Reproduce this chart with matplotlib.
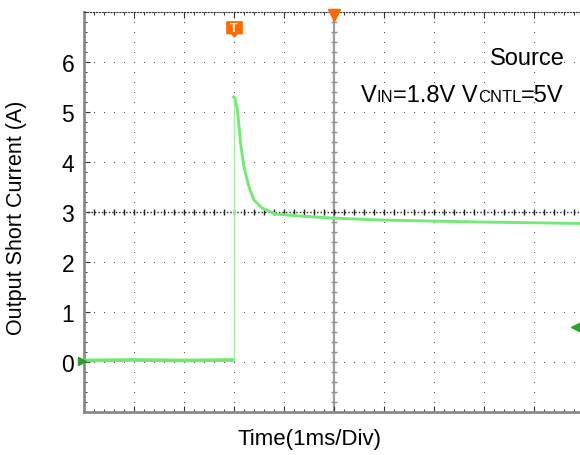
import numpy as np
import matplotlib
matplotlib.use("Agg")
import matplotlib.pyplot as plt
from matplotlib.path import Path

plt.rcParams['font.family'] = ['Liberation Sans', 'DejaVu Sans']

t_base = [0.0, 1.0, 2.0, 2.99]
i_base = [0.03, 0.04, 0.03, 0.04]

t_rise = [2.99, 2.99]
i_rise = [0.04, 5.3]

t_decay = [2.99, 3.02, 3.07, 3.13, 3.2, 3.3, 3.4, 3.56, 3.83, 4.3, 4.96, 5.9, 7.9, 10.0]
i_decay = [5.3, 5.27, 5.04, 4.38, 3.9, 3.5, 3.24, 3.08, 2.96, 2.92, 2.88, 2.84, 2.8, 2.77]

y_ticks = [0, 1, 2, 3, 4, 5, 6]

fig = plt.figure(figsize=(5.8, 4.56), dpi=100)
ax = fig.add_axes([84/580, 43/456, 500/580, 400/456])
ax.set_xlim(0, 10)
ax.set_ylim(-1, 7)

# reticula de puntos
gy = np.arange(-1, 7.01, 0.2)
gx = np.arange(0, 10.01, 0.2)
for xv in range(1, 10):
    if xv == 5:
        continue
    ax.plot(np.full(len(gy), xv), gy, ls='none', marker='s', ms=0.75, mew=0, color='#505050', zorder=1)
for yv in range(0, 7):
    if yv == 3:
        continue
    ax.plot(gx, np.full(len(gx), yv), ls='none', marker='s', ms=0.75, mew=0, color='#505050', zorder=1)

# ejes centrales con marcas
ax.axvline(5, color='#a0a0a0', lw=1.6, zorder=1)
ax.plot(np.full(len(gy), 5), gy, ls='none', marker='_', ms=5, mew=1, color='#909090', zorder=1)
ax.axhline(3, color='#222222', lw=1, ls=(0, (1, 1.5)), zorder=1)
ax.plot(gx, np.full(len(gx), 3), ls='none', marker='|', ms=4.5, mew=1, color='#222222', zorder=1)

# traza
ax.plot(t_base, i_base, color='#6ee86e', lw=2.6, zorder=3)
ax.plot(t_rise, i_rise, color='#a6f0a6', lw=1, zorder=3)
ax.plot(t_decay, i_decay, color='#74ea74', lw=2.1, zorder=3)

# marcadores del osciloscopio
tpath = Path([(-1, 1), (1, 1), (1, -0.55), (0.35, -0.55), (0, -1), (-0.35, -0.55), (-1, -0.55), (-1, 1)])
ax.plot([3], [0.957], marker=tpath, ms=11, color='#ff6a00', transform=ax.get_xaxis_transform(),
        clip_on=False, zorder=5)
ax.text(3, 0.961, 'T', color='white', fontsize=9, fontweight='bold', ha='center', va='center',
        transform=ax.get_xaxis_transform(), zorder=6)
ax.plot([5], [0.992], marker='v', ms=8, color='#ff6a00', transform=ax.get_xaxis_transform(),
        clip_on=False, zorder=5)
ax.plot([-0.04], [0.03], marker='>', ms=6, color='#2e9e2e', clip_on=False, zorder=5)
ax.plot([9.84], [0.7], marker='<', ms=7, color='#2e9e2e', clip_on=False, zorder=5)

# bordes
ax.spines['left'].set_color('#8a8a8a')
ax.spines['left'].set_linewidth(2)
ax.spines['bottom'].set_color('#8a8a8a')
ax.spines['bottom'].set_linewidth(2)
ax.spines['top'].set_color('#333333')
ax.spines['top'].set_linestyle(':')
ax.spines['right'].set_visible(False)

ax.set_xticks(range(0, 11))
ax.set_xticklabels([])
ax.set_xticks(gx, minor=True)
ax.set_yticks(y_ticks)
ax.set_yticks(gy, minor=True)
ax.tick_params(which='major', direction='in', length=4, width=0.8, color='#333333',
               top=True, labelsize=16.5, pad=7)
ax.tick_params(which='minor', direction='in', length=2.5, width=0.7, color='#333333', top=True)

fig.text(17/580, 1 - 218/456, 'Output Short Current (A)', rotation=90, ha='center', va='center',
         fontsize=15.5)
fig.text(310/580, 11/456, 'Time(1ms/Div)', ha='center', va='baseline', fontsize=16)

fig.text(565/580, 1 - 65/456, 'Source', ha='right', va='baseline', fontsize=17)

# texto con subindices armado por partes
piezas = [('V', 17), ('IN', 12), ('=1.8V V', 17), ('CNTL', 12), ('=5V', 17)]
renderer = fig.canvas.get_renderer()
textos = []
for s, fs in piezas:
    textos.append(fig.text(0, 1 - 102/456, s, ha='left', va='baseline', fontsize=fs))
anchos = [tx.get_window_extent(renderer).width for tx in textos]
x0 = 564 - sum(anchos)
for tx, w in zip(textos, anchos):
    tx.set_x(x0/580)
    x0 += w

fig.savefig('out.png', dpi=100)
